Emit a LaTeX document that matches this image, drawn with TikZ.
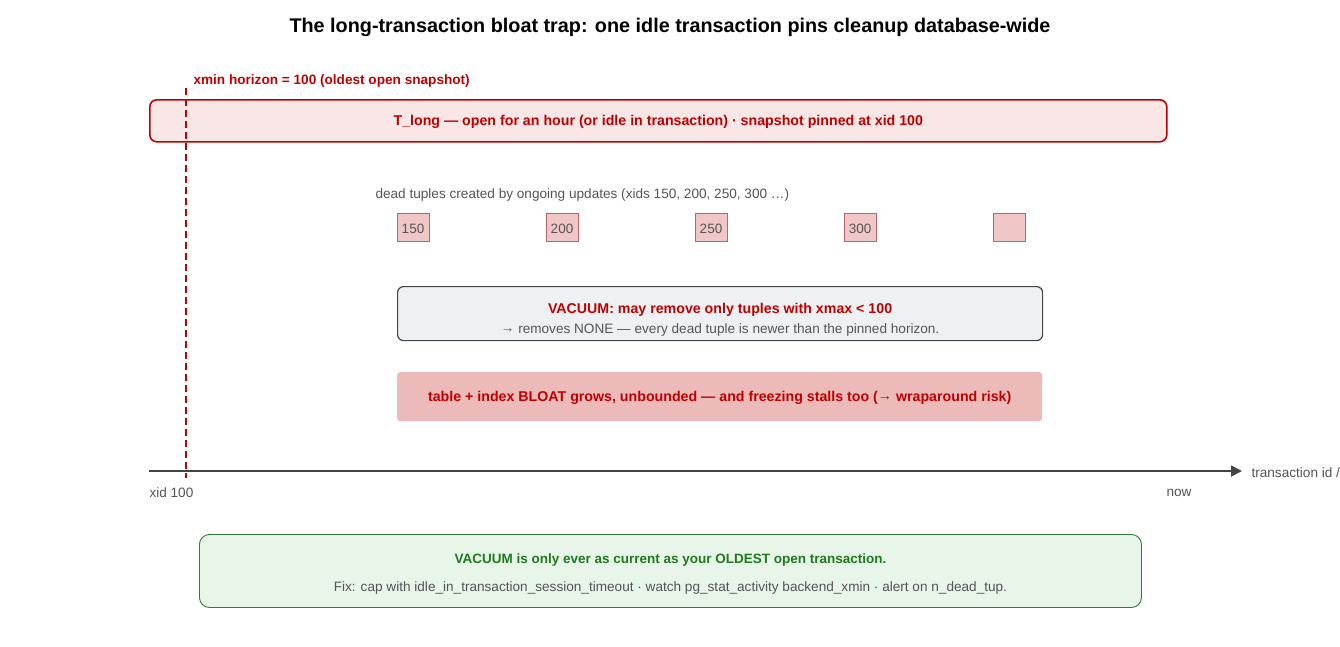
\documentclass[tikz,border=0pt]{standalone}
\usepackage{fontspec}
\setmainfont{Liberation Sans}
\usetikzlibrary{arrows.meta,positioning}

\definecolor{pinred}{HTML}{C00000}
\definecolor{pinfill}{HTML}{F9E7E7}
\definecolor{tupfill}{HTML}{F0C6C6}
\definecolor{tupline}{HTML}{C06266}
\definecolor{vacfill}{HTML}{EEF1F4}
\definecolor{bloatfill}{HTML}{EDBABA}
\definecolor{fixfill}{HTML}{E8F5E9}
\definecolor{fixline}{HTML}{2E7D32}
\definecolor{fixtext}{HTML}{1F7A1F}
\definecolor{txtgray}{HTML}{555555}
\definecolor{axisgray}{HTML}{444444}

\newcommand{\smallarrow}{\raisebox{1.5pt}{→}}

\begin{document}
\begin{tikzpicture}[
    x=1pt, y=-1pt,
    >={Triangle[length=11pt,width=11pt]},
    pin_box/.style={draw=pinred, line width=1.6pt, fill=pinfill, rounded corners=7pt,
        anchor=north west, text depth=0pt, font=\fontsize{14.2}{16}\selectfont\bfseries, text=pinred},
    tuple_box/.style={draw=tupline, line width=0.8pt, fill=tupfill, minimum width=32pt,
        minimum height=28pt, inner sep=0pt, text height=12pt, text depth=0pt,
        font=\fontsize{13.5}{15}\selectfont, text=txtgray},
    vac_box/.style={draw=axisgray, line width=1.2pt, fill=vacfill, rounded corners=6pt,
        anchor=north west},
    bloat_box/.style={fill=bloatfill, rounded corners=3pt, anchor=north west, text depth=0pt,
        font=\fontsize{14.2}{16}\selectfont\bfseries, text=pinred},
    fix_box/.style={draw=fixline, line width=0.9pt, fill=fixfill, rounded corners=10pt,
        anchor=north west},
    head_text/.style={font=\fontsize{14.2}{16}\selectfont\bfseries, text=pinred},
    small_label/.style={font=\fontsize{13.6}{15}\selectfont, text=txtgray}
]
\useasboundingbox (0,0) rectangle (1340,646);

% --- TITLE ---
\node[font=\fontsize{19.8}{24}\selectfont\bfseries] (title) at (670,27)
    {The long-transaction bloat trap: one idle transaction pins cleanup database-wide};

% --- LONG TRANSACTION ---
\node[pin_box, minimum width=1017pt, minimum height=42pt] (tlong) at (149,99)
    {T\_long — open for an hour (or idle in transaction) · snapshot pinned at xid 100};

% --- DEAD TUPLES ---
\node[small_label, anchor=west] (deadcap) at (372,195)
    {dead tuples created by ongoing updates (xids 150, 200, 250, 300 …)};
\node[tuple_box] (t150) at (413,227) {150};
\node[tuple_box, right=116.2pt of t150] (t200) {200};
\node[tuple_box, right=116.2pt of t200] (t250) {250};
\node[tuple_box, right=116.2pt of t250] (t300) {300};
\node[tuple_box, right=116.2pt of t300] (tnext) {};

% --- VACUUM ---
\node[vac_box, minimum width=645pt, minimum height=54pt] (vacuum) at (397,286) {};
\node[head_text, below=24pt of vacuum.north, anchor=center] (vachead)
    {VACUUM: may remove only tuples with xmax < 100};
\node[small_label, below=20pt of vachead.center, anchor=center] (vacnote)
    {\smallarrow{} removes NONE — every dead tuple is newer than the pinned horizon.};

% --- BLOAT ---
\node[bloat_box, minimum width=645pt, minimum height=49pt] (bloat) at (397,372)
    {table + index BLOAT grows, unbounded — and freezing stalls too (\smallarrow{} wraparound risk)};

% --- AXIS ---
\coordinate (axstart) at (149,471);
\coordinate (axend) at (1242,471);
\draw[->, axisgray, line width=1.8pt] (axstart) -- (axend);
\node[small_label, anchor=west] (axlabel) at (1248,472.5) {transaction id /};
\node[small_label, anchor=west] (xid) at (146,493) {xid 100};
\node[small_label] (now) at (1179,493) {now};

% --- XMIN HORIZON ---
\coordinate (hztop) at (186,88);
\coordinate (hzbot) at (186,478);
\draw[pinred, line width=1.8pt, dash pattern=on 7pt off 4pt] (hztop) -- (hzbot);
\node[anchor=west, font=\fontsize{13.6}{15}\selectfont\bfseries, text=pinred] (hzlabel) at (190,81)
    {xmin horizon = 100 (oldest open snapshot)};

% --- FIX ---
\node[fix_box, minimum width=942pt, minimum height=73pt] (fix) at (199,534) {};
\node[font=\fontsize{13.5}{16}\selectfont\bfseries, text=fixtext, below=26pt of fix.north, anchor=center] (fixhead)
    {VACUUM is only ever as current as your OLDEST open transaction.};
\node[small_label, below=28pt of fixhead.center, anchor=center] (fixnote)
    {Fix: cap with idle\_in\_transaction\_session\_timeout · watch pg\_stat\_activity backend\_xmin · alert on n\_dead\_tup.};

\end{tikzpicture}
\end{document}
